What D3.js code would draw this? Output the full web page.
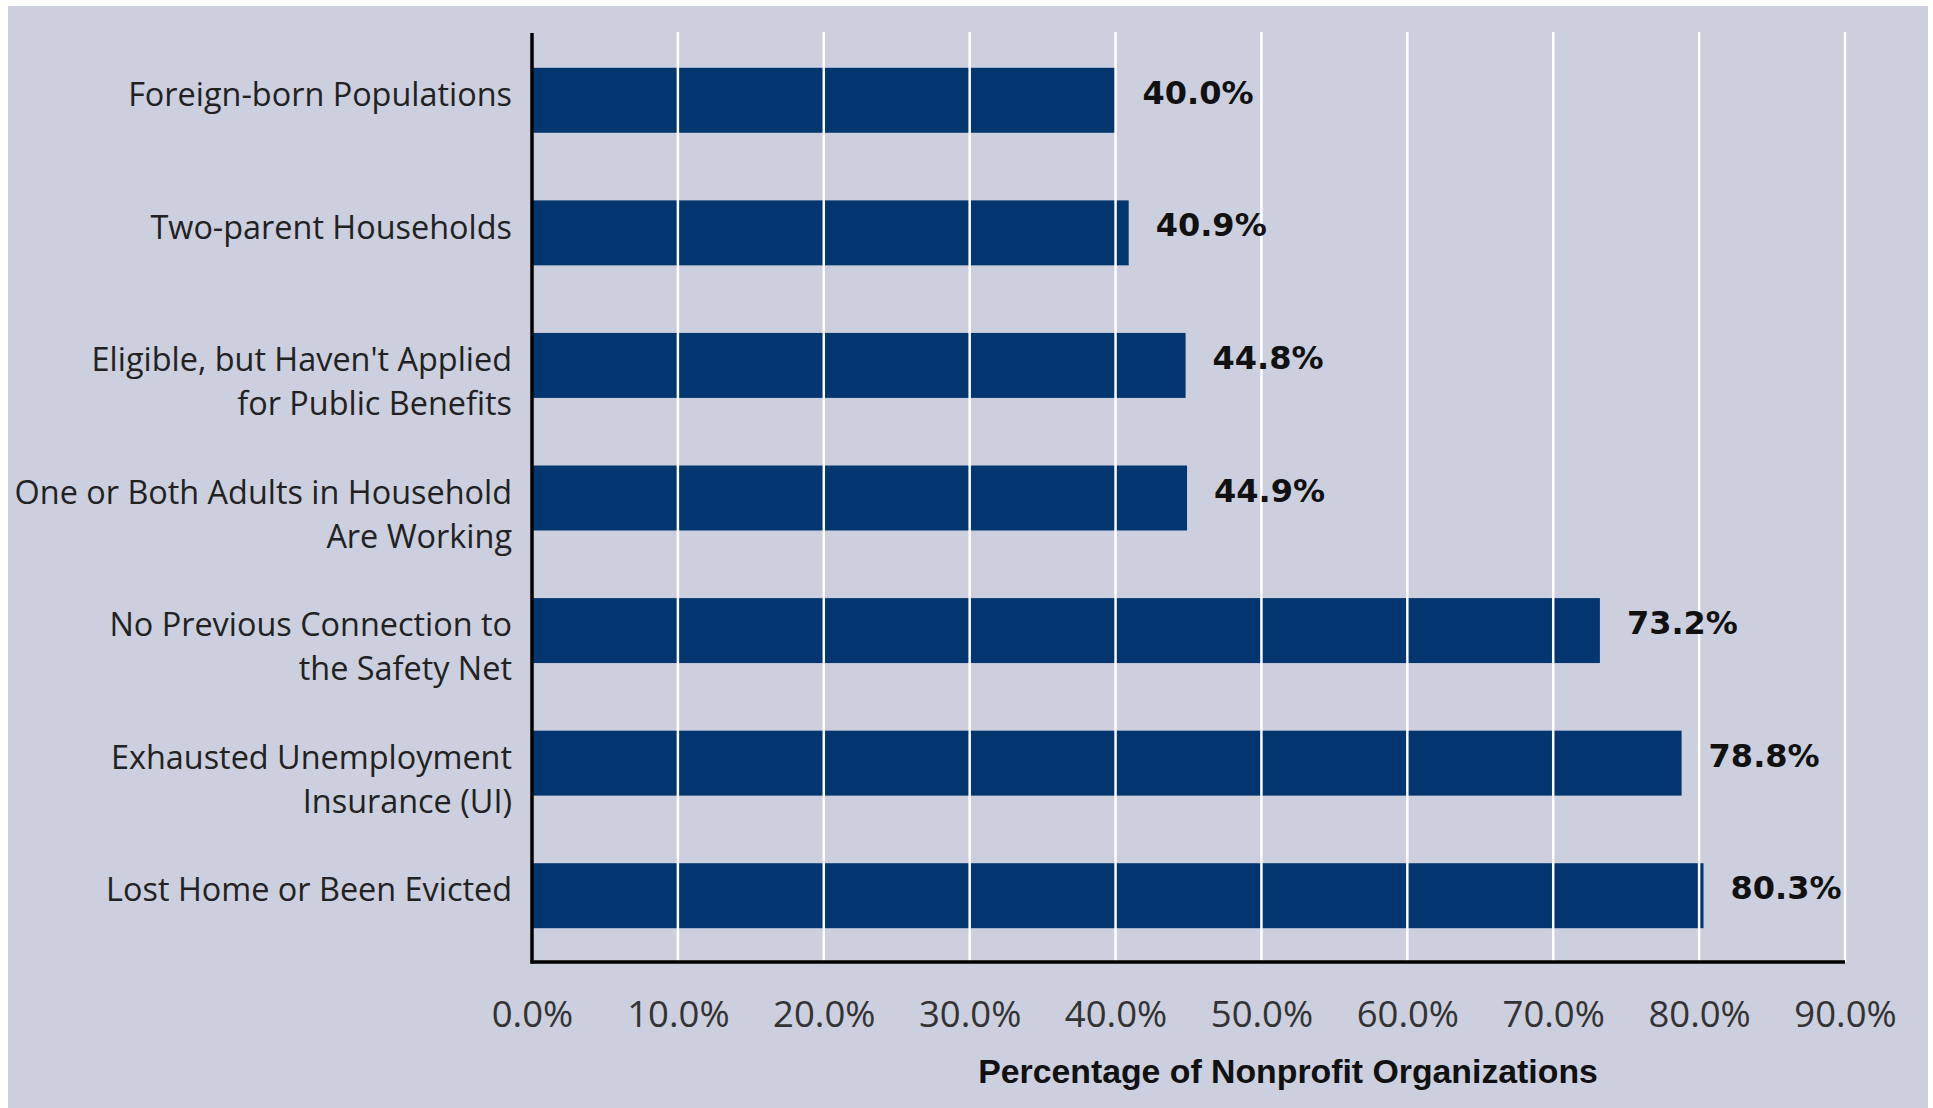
<!DOCTYPE html>
<html>
<head>
<meta charset="utf-8">
<script src="https://cdn.jsdelivr.net/npm/d3@7"></script>
<style>
  body { margin: 0; background: #fff; }
  .cat-axis text { font-family: "Open Sans", sans-serif; font-size: 32.4px; fill: #222; }
  .pct-axis text { font-family: "Open Sans", sans-serif; font-size: 36.5px; fill: #333; }
</style>
</head>
<body>
<div id="chart"></div>
<script>
// chart data
var categories = [
  "Foreign-born Populations",
  "Two-parent Households",
  "Eligible, but Haven't Applied for Public Benefits",
  "One or Both Adults in Household Are Working",
  "No Previous Connection to the Safety Net",
  "Exhausted Unemployment Insurance (UI)",
  "Lost Home or Been Evicted"
];
// how each category label wraps
var labelLines = [
  ["Foreign-born Populations"],
  ["Two-parent Households"],
  ["Eligible, but Haven't Applied", "for Public Benefits"],
  ["One or Both Adults in Household", "Are Working"],
  ["No Previous Connection to", "the Safety Net"],
  ["Exhausted Unemployment", "Insurance (UI)"],
  ["Lost Home or Been Evicted"]
];
var values = [40.0, 40.9, 44.8, 44.9, 73.2, 78.8, 80.3];
var tickValues = [0, 10, 20, 30, 40, 50, 60, 70, 80, 90];
var axisTitle = "Percentage of Nonprofit Organizations";

// set the dimensions and margins of the graph
var W = 1933, H = 1108;
var margin = {top: 34, right: 88, bottom: 146, left: 532},
    width = W - margin.left - margin.right,
    height = H - margin.top - margin.bottom;

var x = d3.scaleLinear()
    .domain([0, 90])
    .range([0, width]);
var y = d3.scaleBand()
    .domain(categories)
    .range([0, height])
    .paddingInner(0.51)
    .paddingOuter(0.255);

var svg = d3.select("#chart").append("svg")
    .attr("width", W)
    .attr("height", H);

// panel background
svg.append("rect")
    .attr("x", 8)
    .attr("y", 6)
    .attr("width", 1920)
    .attr("height", H - 6)
    .attr("fill", "#cbcfde");

var g = svg.append("g")
    .attr("transform", "translate(" + margin.left + "," + margin.top + ")");

// bars
g.selectAll(".bar")
    .data(values)
  .enter().append("rect")
    .attr("class", "bar")
    .attr("x", 0)
    .attr("y", function(d, i) { return y(categories[i]); })
    .attr("width", function(d) { return x(d); })
    .attr("height", y.bandwidth())
    .attr("fill", "#03366e");

// white grid lines drawn over the bars
g.selectAll(".grid")
    .data(tickValues.slice(1))
  .enter().append("line")
    .attr("class", "grid")
    .attr("x1", function(d) { return x(d); })
    .attr("x2", function(d) { return x(d); })
    .attr("y1", -2)
    .attr("y2", height)
    .attr("stroke", "#ffffff")
    .attr("stroke-width", 2.5);

// value labels
g.selectAll(".val")
    .data(values)
  .enter().append("text")
    .attr("class", "val")
    .attr("x", function(d) { return x(d) + 27; })
    .attr("y", function(d, i) { return y(categories[i]) + y.bandwidth() / 2 - 8; })
    .attr("dy", "0.36em")
    .style("font-family", "'DejaVu Sans', sans-serif")
    .style("font-weight", "bold")
    .style("font-size", "32px")
    .style("fill", "#111")
    .text(function(d) { return d.toFixed(1) + "%"; });

// x axis
g.append("g")
    .attr("class", "pct-axis")
    .attr("transform", "translate(0," + height + ")")
    .call(d3.axisBottom(x)
      .tickValues(tickValues)
      .tickFormat(function(d) { return d.toFixed(1) + "%"; })
      .tickSize(0)
      .tickSizeOuter(0)
      .tickPadding(39))
    .call(function(a) {
      a.select(".domain").attr("stroke", "#000").attr("stroke-width", 3.5)
        .attr("d", "M-1.5,0H" + width);
    });

// y axis with wrapped labels
g.append("g")
    .attr("class", "cat-axis")
    .call(d3.axisLeft(y).tickSize(0).tickPadding(20))
    .call(function(a) {
      a.select(".domain").attr("stroke", "#000").attr("stroke-width", 3.5)
        .attr("d", "M0,-1V" + (height + 1.5));
      a.selectAll(".tick text").each(function(d) {
        var lines = labelLines[categories.indexOf(d)];
        var t = d3.select(this).text(null).attr("dy", null);
        lines.forEach(function(line, i) {
          t.append("tspan")
            .attr("x", -20)
            .attr("y", -6 + i * 44)
            .attr("dy", "0.36em")
            .text(line);
        });
      });
    });

// axis title
svg.append("text")
    .attr("x", 1288)
    .attr("y", 1071)
    .attr("dy", "0.36em")
    .attr("text-anchor", "middle")
    .style("font-family", "'Liberation Sans', sans-serif")
    .style("font-weight", "bold")
    .style("font-size", "33.8px")
    .style("fill", "#111")
    .text(axisTitle);
</script>
</body>
</html>
